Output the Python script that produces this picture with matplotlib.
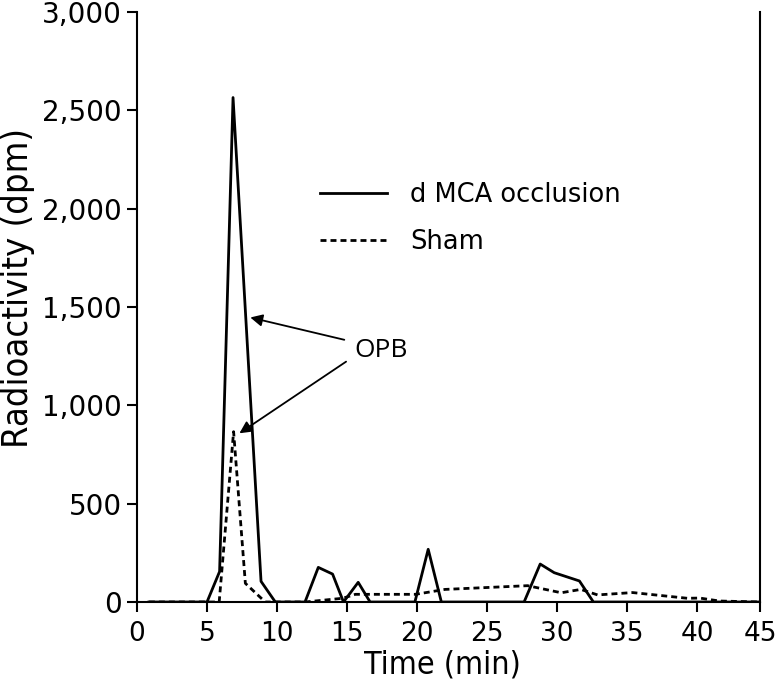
import matplotlib
matplotlib.use('Agg')
import matplotlib.pyplot as plt
from matplotlib.ticker import FuncFormatter

plt.rcParams['font.family'] = 'DejaVu Sans'
plt.rcParams['lines.scale_dashes'] = False

# time (min) and radioactivity (dpm)
mca_time = [0.85, 5.0, 5.9, 6.86, 8.86, 9.88, 12.0, 12.95, 13.97, 14.75, 15.8, 16.65,
            19.85, 20.8, 21.74, 27.65, 28.8, 29.8, 31.6, 32.6, 44.5]
mca_dpm = [0, 0, 155, 2565, 105, 0, 0, 176, 142, 0, 100, 0,
           0, 268, 0, 0, 193, 149, 107, 0, 0]

sham_time = [0.85, 5.87, 6.9, 7.74, 9.16, 12.0, 14.7, 15.6, 19.9, 22.0, 27.9,
             30.3, 31.7, 32.9, 35.4, 39.3, 40.2, 41.6, 44.5]
sham_dpm = [0, 0, 866, 95, 0, 0, 19, 39, 39, 64, 83,
            47, 64, 36, 48, 19, 20, 5, 0]

xticks = [0, 5, 10, 15, 20, 25, 30, 35, 40, 44.5]
xticklabels = ['0', '5', '10', '15', '20', '25', '30', '35', '40', '45']
yticks = [0, 500, 1000, 1500, 2000, 2500, 3000]

fig = plt.figure(figsize=(7.76, 6.85), dpi=100)
ax = fig.add_axes([137/776, 1 - 602/685, 623/776, 590/685])

ax.plot(mca_time, mca_dpm, color='black', lw=2.0, label='d MCA occlusion')
ax.plot(sham_time, sham_dpm, color='black', lw=2.0, linestyle=(0, (4.3, 2.9)), label='Sham')

ax.set_xlim(0, 44.5)
ax.set_ylim(0, 3000)
ax.set_xticks(xticks)
ax.set_xticklabels(xticklabels)
ax.set_yticks(yticks)
ax.yaxis.set_major_formatter(FuncFormatter(lambda v, p: '{:,.0f}'.format(v)))
ax.tick_params(width=1.5, length=7, direction='out')
ax.tick_params(axis='x', labelsize=19, pad=7)
ax.tick_params(axis='y', labelsize=20, pad=4)

ax.spines['top'].set_visible(False)
for s in ['left', 'bottom', 'right']:
    ax.spines[s].set_linewidth(1.5)

fig.text(18/776, 1 - 288/685, 'Radioactivity (dpm)', rotation=90, ha='center', va='center',
         fontsize=26, fontstretch='condensed')
fig.text(442/776, 1 - 665/685, 'Time (min)', ha='center', va='center',
         fontsize=23, fontstretch='condensed')

ax.legend(loc='upper left', bbox_to_anchor=(320/776, 1 - 182/685), bbox_transform=fig.transFigure,
          frameon=False, fontsize=18.5, handlelength=2.6, handletextpad=0.9,
          labelspacing=0.8, borderpad=0, borderaxespad=0)

# OPB arrows
arrow = dict(arrowstyle='-|>', color='black', lw=1.3, mutation_scale=18)
ax.annotate('', xy=(7.9, 1450), xytext=(15.0, 1330), arrowprops=arrow)
ax.annotate('', xy=(7.15, 850), xytext=(15.1, 1230), arrowprops=arrow)
ax.text(15.5, 1280, 'OPB', fontsize=19, family='Open Sans', ha='left', va='center')

fig.savefig('out.png', dpi=100)
